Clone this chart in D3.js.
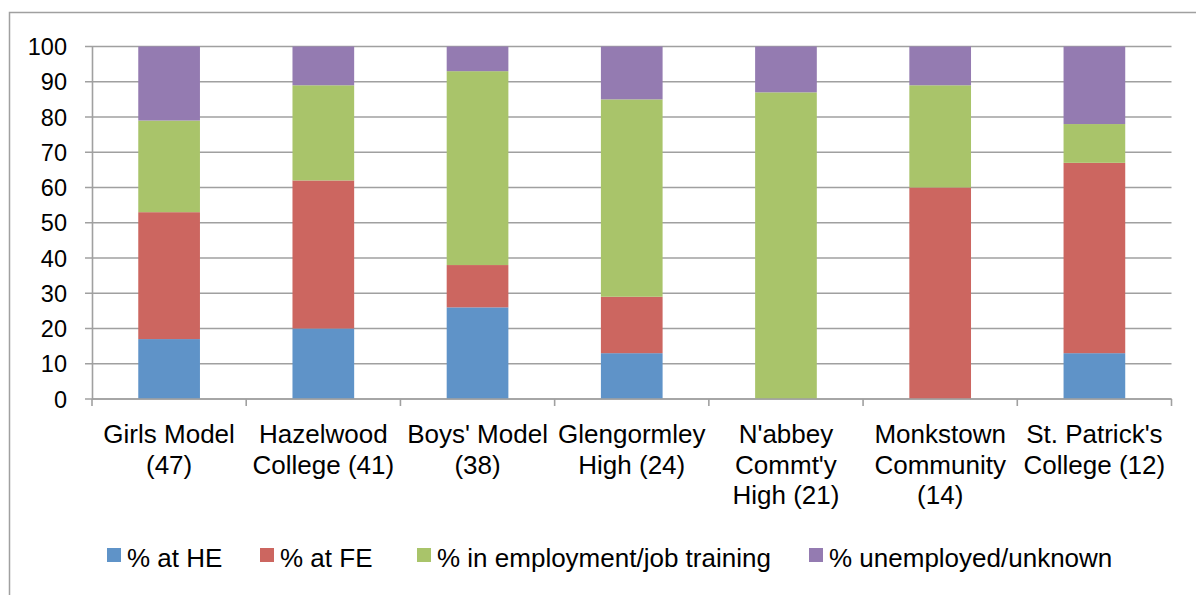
<!DOCTYPE html>
<html><head><meta charset="utf-8">
<script src="https://cdn.jsdelivr.net/npm/d3@7"></script>
<style>body{margin:0;background:#fff}svg{display:block;font-family:"Liberation Sans",Arial,sans-serif}</style>
</head><body><svg id="c" width="1196" height="595"></svg>
<script>
const categories = [["Girls Model","(47)"],["Hazelwood","College (41)"],["Boys' Model","(38)"],["Glengormley","High (24)"],["N'abbey","Commt'y","High (21)"],["Monkstown","Community","(14)"],["St. Patrick's","College (12)"]];
const seriesNames = ["% at HE","% at FE","% in employment/job training","% unemployed/unknown"];
const heVals = [17,20,26,13,0,0,13];
const feVals = [36,42,12,16,0,60,54];
const empVals = [26,27,55,56,87,29,11];
const unempVals = [21,11,7,15,13,11,22];
const colors = ["#5F93C8","#CC6660","#A9C46A","#947BB1"];
const yTicks = [0,10,20,30,40,50,60,70,80,90,100];

const svg = d3.select("#c");
svg.append("rect").attr("x",9.5).attr("y",12.5).attr("width",1200).attr("height",600)
  .attr("fill","none").attr("stroke","#a0a0a0").attr("stroke-width",1.5);

const pL=92, pR=1171.5, pT=46.5, pB=399;
const keys = categories.map((c,i)=>i);
const x = d3.scaleBand().domain(keys).range([pL,pR]).paddingInner(0).paddingOuter(0);
const y = d3.scaleLinear().domain([0,100]).range([pB,pT]);

const rows = keys.map(i=>({i, s0:heVals[i], s1:feVals[i], s2:empVals[i], s3:unempVals[i]}));
const stack = d3.stack().keys(["s0","s1","s2","s3"])(rows);

// gridlines
svg.append("g").selectAll("line").data(yTicks).join("line")
  .attr("x1",pL-7).attr("x2",pR).attr("y1",d=>y(d)).attr("y2",d=>y(d))
  .attr("stroke","#a0a0a0").attr("stroke-width",1.6);

// bars
const bw = x.bandwidth()*0.4;
svg.append("g").selectAll("g").data(stack).join("g").attr("fill",(d,k)=>colors[k])
  .selectAll("rect").data(d=>d.filter(p=>p[1]-p[0]>0)).join("rect")
  .attr("x",d=>x(d.data.i)+x.bandwidth()/2-bw/2)
  .attr("width",bw)
  .attr("y",d=>y(d[1]))
  .attr("height",d=>y(d[0])-y(d[1]));

// y axis
const ya = svg.append("g").attr("transform",`translate(${pL},0)`).call(d3.axisLeft(y).tickValues(yTicks).tickSize(0).tickPadding(25));
ya.select(".domain").attr("stroke","#a0a0a0").attr("stroke-width",1.6);
ya.selectAll("text").attr("font-size",23.5).attr("fill","#000").attr("font-family","Liberation Sans, Arial, sans-serif").attr("dy","0.35em");

// x axis
const xa = svg.append("g").attr("transform",`translate(0,${pB})`);
xa.append("line").attr("x1",pL).attr("x2",pR).attr("stroke","#a0a0a0").attr("stroke-width",1.6);
xa.selectAll("line.t").data(d3.range(categories.length+1)).join("line").attr("class","t")
  .attr("x1",d=>pL+d*x.step()).attr("x2",d=>pL+d*x.step()).attr("y1",0).attr("y2",7)
  .attr("stroke","#a0a0a0").attr("stroke-width",1.6);
const lab = xa.selectAll("text").data(keys).join("text")
  .attr("x",d=>x(d)+x.bandwidth()/2).attr("text-anchor","middle")
  .attr("font-size",26).attr("fill","#000");
lab.selectAll("tspan").data(d=>categories[d]).join("tspan")
  .attr("x",function(){return this.parentNode.getAttribute("x");})
  .attr("y",(d,j)=>44+j*30.5).text(d=>d);

// legend
const legX = [107,260,417,809];
const lg = svg.append("g").selectAll("g").data(seriesNames).join("g")
  .attr("transform",(d,k)=>`translate(${legX[k]},548)`);
lg.append("rect").attr("width",14).attr("height",14).attr("fill",(d,k)=>colors[k]);
lg.append("text").attr("x",20).attr("y",18.5).attr("font-size",26).attr("fill","#000").text(d=>d);
</script></body></html>
